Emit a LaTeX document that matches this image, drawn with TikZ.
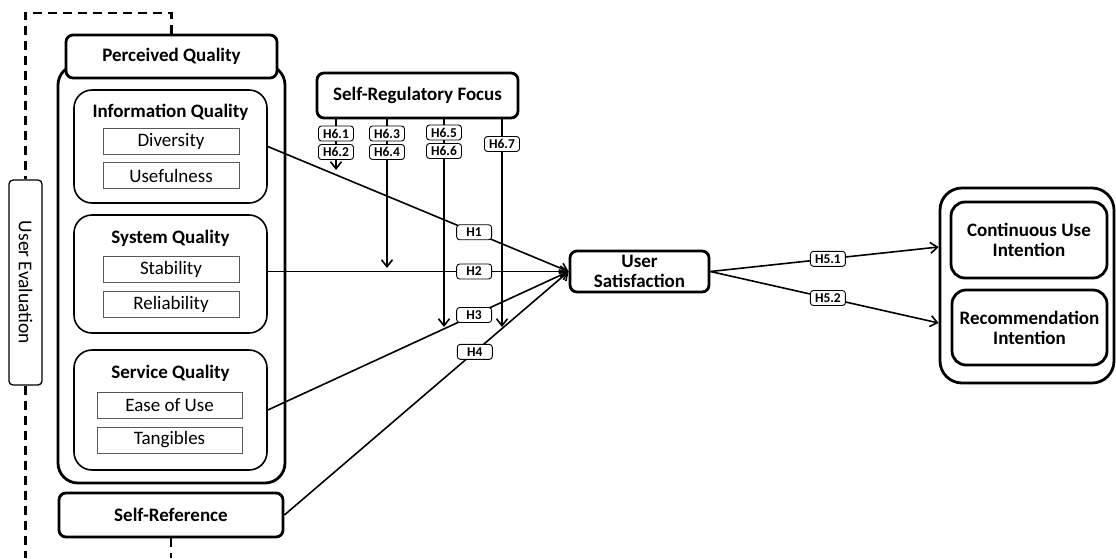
\documentclass[tikz,border=0pt]{standalone}
\usepackage{fontspec}
\setmainfont{Carlito}
\usetikzlibrary{arrows.meta, positioning}

\begin{document}
\begin{tikzpicture}[
  x=1pt, y=-1pt,
  every node/.style={font=\fontsize{19}{20}\selectfont},
  bigbox/.style={
    rectangle, rounded corners=7pt,
    draw, line width=2.8pt, fill=white,
    align=center, inner sep=0pt,
    font=\fontsize{19}{20}\selectfont\bfseries},
  hold/.style={
    rectangle, rounded corners=20pt,
    draw, line width=2.8pt, inner sep=0pt},
  grp/.style={
    rectangle, rounded corners=18pt,
    draw, line width=1.6pt, inner sep=0pt},
  ttl/.style={font=\fontsize{19}{20}\selectfont\bfseries, inner sep=0pt},
  item/.style={
    rectangle, draw=black!65, line width=1pt,
    minimum height=26pt, inner sep=0pt},
  uebox/.style={
    rectangle, rounded corners=4pt,
    draw, line width=1.3pt, inner sep=0pt},
  hyp/.style={
    rectangle, rounded corners=3pt,
    draw, line width=0.9pt, fill=white,
    minimum width=35pt, minimum height=15pt, inner sep=1.5pt,
    font=\fontsize{13.5}{14}\selectfont\bfseries},
  arr/.style={
    -{Straight Barb[length=7pt,width=11pt]},
    line width=1.6pt},
  frame/.style={
    line width=2.4pt, dash pattern=on 9pt off 6pt},
]
\useasboundingbox (0,0) rectangle (1116,558);

% perceived quality block
\node[hold, minimum width=227pt, minimum height=418pt] (pqall) at (171.5,274) {};
\node[bigbox, minimum width=211pt, minimum height=43pt] (perc) at (171.5,56.5) {Perceived Quality};

\node[grp, minimum width=193pt, minimum height=113pt] (info) at (170.5,146.5) {};
\node[ttl] (infot) at (170.5,112) {Information Quality};
\node[item, minimum width=136pt] (div)  at (171,141)   {Diversity};
\node[item, minimum width=136pt] (usef) at (171,175.5) {Usefulness};

\node[grp, minimum width=193pt, minimum height=118pt] (sys) at (170.5,274) {};
\node[ttl] (syst) at (170.5,238) {System Quality};
\node[item, minimum width=136pt] (stab) at (171,269)   {Stability};
\node[item, minimum width=136pt] (reli) at (171,304.5) {Reliability};

\node[grp, minimum width=193pt, minimum height=120pt] (serv) at (170.5,410) {};
\node[ttl] (servt) at (170.5,373) {Service Quality};
\node[item, minimum width=145pt] (ease) at (169.5,405) {Ease of Use};
\node[item, minimum width=145pt] (tang) at (169.5,440) {Tangibles};

\node[bigbox, minimum width=224pt, minimum height=44pt] (selfref) at (171,515) {Self-Reference};

\node[uebox, rotate=-90, minimum width=205pt, minimum height=33pt,
      font=\fontsize{19.5}{20}\selectfont] (ue) at (25.5,282.5) {User Evaluation};

% moderator and outcome
\node[bigbox, minimum width=201pt, minimum height=45pt] (srf) at (417.5,95.5) {Self-Regulatory Focus};
\node[bigbox, minimum width=139pt, minimum height=41pt] (us) at (639.5,271.5) {User\\Satisfaction};

\node[hold, rounded corners=22pt, minimum width=174pt, minimum height=195pt] (outc) at (1027,285.5) {};
\node[bigbox, rounded corners=14pt, minimum width=156pt, minimum height=76pt] (cui) at (1029,240) {Continuous Use\\Intention};
\node[bigbox, rounded corners=14pt, minimum width=155pt, minimum height=75pt] (ri) at (1029.5,327.5) {Recommendation\\Intention};

% user evaluation frame
\draw[frame] (perc.north) -- (perc.north |- 0,13) -| (ue.west);
\draw[frame] (ue.east) -- (ue.east |- 0,558);
\draw[frame] (selfref.south) -- (selfref.south |- 0,558);

% main paths
\draw[arr] (info.east) -- node[hyp, pos=.686] (h1) {H1} (us.west);
\draw[arr] (sys.east |- us.west) -- node[hyp, pos=.686] (h2) {H2} (us.west);
\draw[arr] (serv.east) -- node[hyp, pos=.686] (h3) {H3} (us.west);
\draw[arr] (selfref.east) -- node[hyp, pos=.67] (h4) {H4} (us.west);

\coordinate (t1) at (outc.west |- 0,247);
\coordinate (t2) at (outc.west |- 0,323);
\draw[arr] (us.east) -- node[hyp, pos=.515] (h51) {H5.1} (t1);
\draw[arr] (us.east) -- node[hyp, pos=.515] (h52) {H5.2} (t2);

% moderating paths
\coordinate (m1) at (336,170);
\coordinate (m2) at (387,268);
\coordinate (m3) at (444,327);
\coordinate (m4) at (502,327);
\draw[arr] (srf.south -| m1) -- (m1);
\draw[arr] (srf.south -| m2) -- (m2);
\draw[arr] (srf.south -| m3) -- (m3);
\draw[arr] (srf.south -| m4) -- (m4);

\node[hyp] (h61) at (m1 |- 0,133.5) {H6.1};
\node[hyp] (h62) at (m1 |- 0,152)   {H6.2};
\node[hyp] (h63) at (m2 |- 0,133.5) {H6.3};
\node[hyp] (h64) at (m2 |- 0,152)   {H6.4};
\node[hyp] (h65) at (m3 |- 0,132.5) {H6.5};
\node[hyp] (h66) at (m3 |- 0,151)   {H6.6};
\node[hyp] (h67) at (m4 |- 0,144)   {H6.7};

\end{tikzpicture}
\end{document}
